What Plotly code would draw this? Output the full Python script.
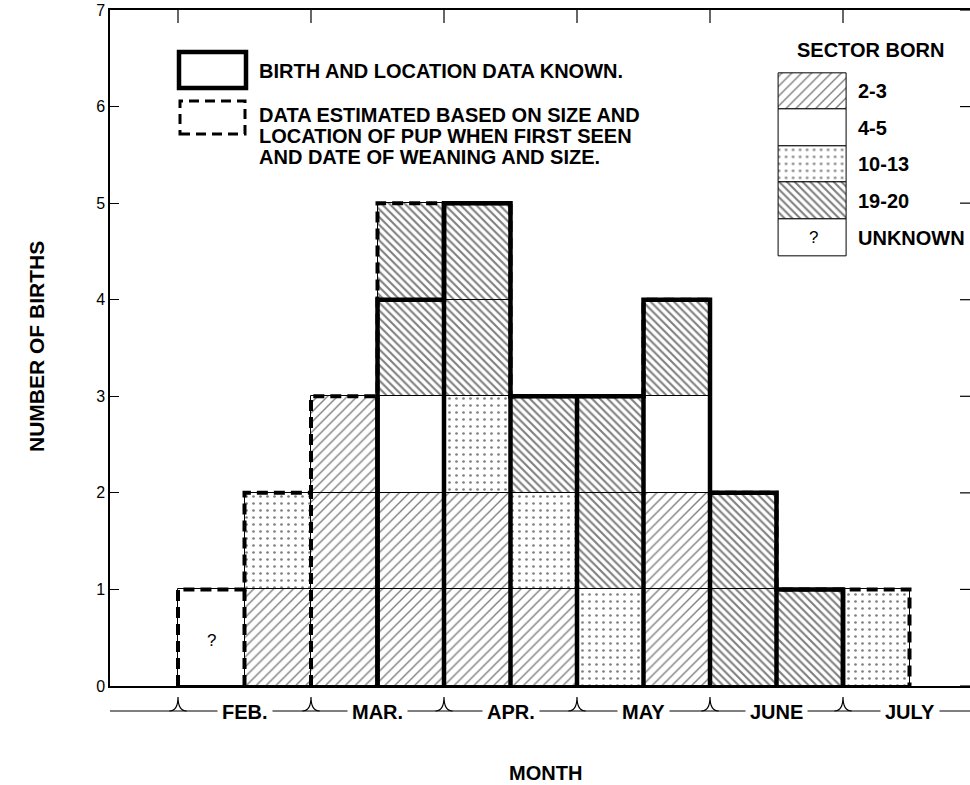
import plotly.graph_objects as go

# ---------------- data ----------------
months = ["FEB.", "MAR.", "APR.", "MAY", "JUNE", "JULY"]
# births per half-month bin (Feb 1st half ... July 1st half)
n_unknown = [1, 0, 0, 0, 0, 0, 0, 0, 0, 0, 0]
n_2_3     = [0, 1, 3, 2, 2, 1, 0, 2, 0, 0, 0]
n_4_5     = [0, 0, 0, 1, 0, 0, 0, 1, 0, 0, 0]
n_10_13   = [0, 1, 0, 0, 1, 1, 1, 0, 0, 0, 1]
n_19_20   = [0, 0, 0, 2, 2, 1, 2, 1, 2, 1, 0]
n_known   = [0, 0, 0, 4, 5, 3, 3, 4, 2, 1, 0]   # births with known data (solid outline)
y_ticks = [0, 1, 2, 3, 4, 5, 6, 7]
legend_labels = ["2-3", "4-5", "10-13", "19-20", "UNKNOWN"]

# ---------------- styles ----------------
FONT = "Liberation Sans, Arial, sans-serif"
PAT = {
    "UNKNOWN": dict(shape=""),
    "2-3": dict(shape="/", size=7, solidity=0.2, fgcolor="black", bgcolor="white"),
    "4-5": dict(shape=""),
    "10-13": dict(shape=".", size=7, solidity=0.12, fgcolor="black", bgcolor="white"),
    "19-20": dict(shape="\\", size=5.5, solidity=0.38, fgcolor="black", bgcolor="white"),
}


def fnt(size, bold=True):
    return dict(size=size, family=FONT, color="black", weight="bold" if bold else "normal")


W, H = 970, 785
SL, ST, SY0 = 110, 10, 686   # plot area in screen px
L, T = SL, ST
PW = W - L
PH = SY0 - ST
B = H - SY0
UNIT = 66.5
x_left = -(178 - SL) / UNIT
x_right = x_left + PW / UNIT


def px(x):
    return (x - SL) / PW


def py(y):
    return (SY0 - y) / PH


def note(x, y, text, size, bold=True, xanchor="center", **kw):
    d = dict(x=x, y=y, xref="paper", yref="paper", text=text, showarrow=False,
             xanchor=xanchor, yanchor="middle", font=fnt(size, bold))
    d.update(kw)
    return d


nbins = len(n_known)
totals = [a + b + c + d + e for a, b, c, d, e in zip(n_unknown, n_2_3, n_4_5, n_10_13, n_19_20)]

fig = go.Figure()

# ---------------- stacked unit cells ----------------
series = [("UNKNOWN", n_unknown), ("2-3", n_2_3), ("4-5", n_4_5), ("10-13", n_10_13), ("19-20", n_19_20)]
cum = [0] * nbins
for name, counts in series:
    xs, bases = [], []
    for i, c in enumerate(counts):
        for u in range(c):
            xs.append(i + 0.5)
            bases.append(cum[i] + u)
        cum[i] += c
    if not xs:
        continue
    fig.add_trace(go.Bar(
        x=xs, y=[1] * len(xs), base=bases, width=1,
        marker=dict(color="white", line=dict(color="black", width=1), pattern=PAT[name]),
        showlegend=False, hoverinfo="skip", xaxis="x", yaxis="y"))

# ---------------- outlines ----------------
dx, dy = [0], [0]
for i, t in enumerate(totals):
    dx += [i, i + 1]
    dy += [t, t]
dx.append(nbins); dy.append(0)

sx, sy = [], []
i = 0
while i < nbins:
    if n_known[i] > 0:
        run_x, run_y = [i], [0]
        j = i
        while j < nbins and n_known[j] > 0:
            run_x += [j, j + 1]
            run_y += [n_known[j], n_known[j]]
            j += 1
        run_x.append(j); run_y.append(0)
        sx += run_x + [None]
        sy += run_y + [None]
        i = j
    else:
        i += 1

for j in range(1, nbins):
    h = min(totals[j - 1], totals[j])
    k = max(n_known[j - 1], n_known[j])
    if h <= 0:
        continue
    if k > 0:
        sx += [j, j, None]
        sy += [0, min(k, h), None]
    if h > k:
        dx += [None, j, j]
        dy += [None, k, h]

fig.add_trace(go.Scatter(x=dx, y=dy, mode="lines", line=dict(color="black", width=4, dash="11px,6px"),
                         showlegend=False, hoverinfo="skip", cliponaxis=False))
fig.add_trace(go.Scatter(x=sx, y=sy, mode="lines", line=dict(color="black", width=4.5),
                         showlegend=False, hoverinfo="skip", cliponaxis=False))

annotations = []
for i, c in enumerate(n_unknown):
    if c:
        annotations.append(dict(x=i + 0.5, y=0.47, xref="x", yref="y", text="?", showarrow=False,
                                xanchor="center", yanchor="middle", font=fnt(17, False)))

# ---------------- sector legend (own axes) ----------------
LX0, LX1, LY0, LY1 = 779, 847, 73, 256
pad_u = 0.05
row_px = (LY1 - LY0) / len(legend_labels)
for k, name in enumerate(legend_labels):
    base = len(legend_labels) - 1 - k
    fig.add_trace(go.Bar(x=[0.5], y=[1], base=[base], width=1, xaxis="x2", yaxis="y2",
                         marker=dict(color="white", line=dict(color="black", width=1), pattern=PAT[name]),
                         showlegend=False, hoverinfo="skip"))
    annotations.append(note(px(856), py(LY0 + row_px * (k + 0.5)), name, 20, xanchor="left"))
    if name == "UNKNOWN":
        annotations.append(note(px((LX0 + LX1) / 2), py(LY0 + row_px * (k + 0.5)), "?", 17, bold=False))
annotations.append(note(px(870), py(50), "SECTOR BORN", 20))

# ---------------- outline legend ----------------
shapes = []
shapes.append(dict(type="rect", xref="paper", yref="paper", x0=px(179), x1=px(246), y0=py(88), y1=py(52),
                   line=dict(color="black", width=4.5)))
shapes.append(dict(type="rect", xref="paper", yref="paper", x0=px(180), x1=px(245), y0=py(134), y1=py(101),
                   line=dict(color="black", width=3, dash="10px,6px")))
annotations.append(note(px(257), py(71), "BIRTH AND LOCATION DATA KNOWN.", 20, xanchor="left"))
for txt, yy in [("DATA ESTIMATED BASED ON SIZE AND", 115), ("LOCATION OF PUP WHEN FIRST SEEN", 136),
                ("AND DATE OF WEANING AND SIZE.", 157)]:
    annotations.append(note(px(257), py(yy), txt, 20, xanchor="left"))

# ---------------- top ticks, right ticks ----------------
boundaries = [2 * m for m in range(len(months))]
for b in boundaries:
    shapes.append(dict(type="line", xref="x", yref="paper", x0=b, x1=b, y0=1, y1=1 - 13 / PH,
                       line=dict(color="black", width=1.2)))
for v in y_ticks:
    shapes.append(dict(type="line", xref="paper", yref="y", x0=1 - 10 / PW, x1=1, y0=v, y1=v,
                       line=dict(color="black", width=1.2)))

# ---------------- month axis row ----------------
yl = py(711)
ypk = py(697)
shapes.append(dict(type="line", xref="paper", yref="paper", x0=0, x1=1, y0=yl, y1=yl,
                   line=dict(color="black", width=1)))
for b in boundaries:
    shapes.append(dict(type="path", xref="x", yref="paper",
                       path=f"M {b-0.13},{yl} Q {b},{yl} {b},{ypk} Q {b},{yl} {b+0.13},{yl}",
                       line=dict(color="black", width=1.2)))
for m, name in enumerate(months):
    annotations.append(dict(x=2 * m + 1, y=py(712), xref="x", yref="paper", text=name, showarrow=False,
                            xanchor="center", yanchor="middle",
                            bgcolor="white", borderpad=4, font=fnt(20)))

annotations.append(note(px(545), py(773), "MONTH", 20))
annotations.append(note(px(36), py(347), "NUMBER OF BIRTHS", 21, textangle=-90))

fig.update_layout(
    width=W, height=H, autosize=False,
    margin=dict(l=L, r=W - L - PW, t=T, b=B, pad=0),
    plot_bgcolor="white", paper_bgcolor="white",
    barmode="overlay", bargap=0,
    showlegend=False,
    font=dict(family=FONT, color="black"),
    xaxis=dict(range=[x_left, x_right], showline=True, mirror=True, linecolor="black", linewidth=1.5,
               showticklabels=False, ticks="", showgrid=False, zeroline=False, fixedrange=True),
    yaxis=dict(range=[0, 7], tickvals=y_ticks, ticks="inside", ticklen=9, tickcolor="black", tickwidth=1.2,
               showline=True, linecolor="black", linewidth=1.5, showgrid=False, zeroline=False,
               ticklabeloverflow="allow",
               tickfont=fnt(16, False), fixedrange=True),
    xaxis2=dict(domain=[px(LX0 - pad_u * (LX1 - LX0)), px(LX1 + pad_u * (LX1 - LX0))], anchor="y2",
                range=[-pad_u, 1 + pad_u], visible=False, fixedrange=True),
    yaxis2=dict(domain=[py(LY1 + 2 * pad_u * row_px), py(LY0 - 2 * pad_u * row_px)], anchor="x2",
                range=[-2 * pad_u, 5 + 2 * pad_u], visible=False, fixedrange=True),
    shapes=shapes,
    annotations=annotations,
)

fig.write_html("out.html", config={"displayModeBar": False},
               post_script="document.body.style.margin='0px';")
